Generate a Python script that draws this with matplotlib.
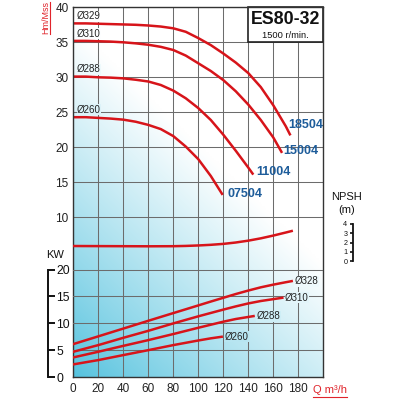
import numpy as np
import matplotlib
matplotlib.use('Agg')
import matplotlib.pyplot as plt
from matplotlib import font_manager
from matplotlib.patches import Rectangle
from matplotlib.lines import Line2D

_names = {f.name for f in font_manager.fontManager.ttflist}
NARROW = 'Liberation Sans Narrow' if 'Liberation Sans Narrow' in _names else 'Liberation Sans'
REG = 'Liberation Sans'
plt.rcParams['font.family'] = [NARROW, 'DejaVu Sans']

# ---------------- data ----------------
q_ticks = [0, 20, 40, 60, 80, 100, 120, 140, 160, 180]
h_ticks = [10, 15, 20, 25, 30, 35, 40]
kw_ticks = [0, 5, 10, 15, 20]
npsh_ticks = [0, 1, 2, 3, 4]

head_diams = ['Ø329', 'Ø310', 'Ø288', 'Ø260']
head_models = ['18504', '15004', '11004', '07504']
head_q = [
    [0, 10, 20, 30, 40, 50, 60, 70, 80, 90, 100, 110, 120, 130, 140, 150, 160, 170, 173.7],
    [0, 10, 20, 30, 40, 50, 60, 70, 80, 90, 100, 110, 120, 130, 140, 150, 160, 167],
    [0, 10, 20, 30, 40, 50, 60, 70, 80, 90, 100, 110, 120, 130, 140, 144],
    [0, 10, 20, 30, 40, 50, 60, 70, 80, 90, 100, 110, 119.5],
]
head_h = [
    [37.7, 37.7, 37.65, 37.6, 37.55, 37.5, 37.4, 37.25, 37.0, 36.5, 35.6, 34.6, 33.4, 32.1, 30.6, 28.6, 26.0, 23.0, 21.7],
    [35.2, 35.2, 35.15, 35.1, 35.0, 34.85, 34.65, 34.35, 33.9, 33.1, 32.0, 30.9, 29.6, 28.0, 26.1, 23.9, 21.4, 19.2],
    [30.1, 30.1, 30.0, 29.95, 29.85, 29.65, 29.4, 28.9, 28.1, 27.0, 25.6, 23.9, 21.8, 19.5, 17.1, 16.1],
    [24.3, 24.3, 24.2, 24.1, 23.95, 23.65, 23.2, 22.6, 21.6, 20.1, 18.3, 15.9, 13.2],
]

power_diams = ['Ø328', 'Ø310', 'Ø288', 'Ø260']
power_q = [
    [0, 20, 40, 60, 80, 100, 110, 120, 130, 140, 150, 160, 170, 174.7],
    [0, 20, 40, 60, 80, 100, 120, 130, 140, 150, 160, 167.2],
    [0, 20, 40, 60, 80, 100, 120, 130, 144.2],
    [0, 20, 40, 60, 80, 100, 110, 118.7],
]
power_kw = [
    [6.13, 7.57, 9.02, 10.47, 11.9, 13.33, 14.05, 14.75, 15.45, 16.1, 16.7, 17.2, 17.65, 17.85],
    [4.7, 5.94, 7.3, 8.6, 9.98, 11.3, 12.55, 13.15, 13.7, 14.15, 14.5, 14.75],
    [3.65, 4.7, 5.8, 6.87, 8.0, 9.17, 10.3, 10.8, 11.34],
    [2.35, 3.15, 4.08, 5.0, 5.94, 6.8, 7.2, 7.49],
]

npsh_q = [0, 20, 40, 60, 80, 90, 100, 110, 120, 130, 140, 150, 160, 170, 174.7]
npsh_m = [1.62, 1.61, 1.6, 1.59, 1.6, 1.63, 1.68, 1.75, 1.85, 2.0, 2.2, 2.45, 2.75, 3.08, 3.24]

# ---------------- style ----------------
RED = '#d7141a'
BLUE = '#1d5c9a'
LRED = '#e0242b'
GRID = '#6c6c6c'
W, HGT = 400, 400
L, R, T, B = 73.3, 323.3, 7.3, 377.0

BASE = np.array([84, 194, 222]) / 255.0


def shade(xf, yf):
    return np.clip(0.68 * xf + 1.05 * yf, 0, 1) ** 0.88


def bg_color(xf, yf):
    s = shade(xf, yf)
    return tuple(BASE + (1 - BASE) * s)


def fx(px):
    return px / W


def fy(py):
    return 1 - py / HGT


fig = plt.figure(figsize=(4, 4), dpi=100)
fig.patch.set_facecolor('white')
ax = fig.add_axes([fx(L), fy(B), (R - L) / W, (B - T) / HGT])

# background gradient
xf = np.linspace(0, 1, 200)
yf = np.linspace(0, 1, 200)
X, Y = np.meshgrid(xf, yf)
S = shade(X, Y)
img = BASE[None, None, :] + (1 - BASE)[None, None, :] * S[..., None]
ax.imshow(img, extent=[0, 1, 0, 1], transform=ax.transAxes, origin='lower',
          aspect='auto', zorder=0, interpolation='bilinear')

ax.set_xlim(0, 200)
ax.set_ylim(40 - (B - T) / 7.0, 40)
ax.set_xticks(q_ticks)
ax.set_yticks(h_ticks)
ax.grid(True, color=GRID, lw=0.75, zorder=1)
ax.set_axisbelow(True)
ax.tick_params(axis='both', length=0, labelsize=8.5, labelcolor='#222')
ax.tick_params(axis='x', pad=4.6)
ax.tick_params(axis='y', pad=3.4)
for s in ax.spines.values():
    s.set_color('#333')
    s.set_linewidth(1.0)
    s.set_zorder(6)


def ax_to_frac(axis, q, v):
    x0, x1 = axis.get_xlim()
    y0, y1 = axis.get_ylim()
    return (q - x0) / (x1 - x0), (v - y0) / (y1 - y0)


# head curves
for d, m, qs, hs in zip(head_diams, head_models, head_q, head_h):
    ax.plot(qs, hs, color=RED, lw=1.8, zorder=4, solid_capstyle='butt',
            solid_joinstyle='round')
    xfr, yfr = ax_to_frac(ax, 3.0, hs[0] + 1.05)
    ax.text(3.0, hs[0] + 1.05, d, fontsize=7, family=REG, color='#222',
            ha='left', va='center', zorder=5,
            bbox=dict(boxstyle='square,pad=0.05', fc=bg_color(xfr, yfr), ec='none'))

label_offsets = {'18504': (-1.3, 7.5), '15004': (1.2, 1.2),
                 '11004': (2.0, 1.7), '07504': (3.5, 0.7)}
for m, qs, hs in zip(head_models, head_q, head_h):
    dx, dy = label_offsets[m]
    ax.annotate(m, (qs[-1], hs[-1]), xytext=(dx, dy), textcoords='offset points',
                fontsize=9, fontweight='bold', color=BLUE, ha='left', va='center',
                zorder=5)

# title box
ax.add_patch(Rectangle((140, 35), 60, 5, fc='white', ec='#222', lw=1.2,
                       zorder=5, clip_on=False))
ax.text(170, 38.2, 'ES80-32', fontsize=12.8, fontweight='bold', color='#111',
        ha='center', va='center', zorder=6)
ax.text(169.4, 36.0, '1500 r/min.', fontsize=6.7, family=REG, color='#111',
        ha='center', va='center', zorder=6)

# KW axis
axk = ax.twinx()
axk.set_xlim(0, 200)
axk.set_ylim(0, (B - T) / 5.37)
axk.set_yticks(kw_ticks)
axk.grid(True, axis='y', color=GRID, lw=0.75, zorder=1)
for k in ['left', 'top', 'bottom']:
    axk.spines[k].set_visible(False)
axk.spines['right'].set_position(('axes', (48.3 - L) / (R - L)))
axk.spines['right'].set_bounds(0, 20)
axk.spines['right'].set_linewidth(1.4)
axk.spines['right'].set_color('#111')
axk.tick_params(axis='y', direction='out', length=4.8, width=1.4, pad=1.0,
                labelsize=8.8, colors='#111')
for d, qs, ks in zip(power_diams, power_q, power_kw):
    axk.plot(qs, ks, color=RED, lw=1.8, zorder=4, solid_joinstyle='round')
    xfr, yfr = ax_to_frac(axk, qs[-1] + 6, ks[-1])
    axk.annotate(d, (qs[-1], ks[-1]), xytext=(2.0, 0), textcoords='offset points',
                 fontsize=7, family=REG, color='#222', ha='left', va='center',
                 zorder=5,
                 bbox=dict(boxstyle='square,pad=0.05', fc=bg_color(xfr, yfr), ec='none'))

# NPSH axis
axn = ax.twinx()
axn.set_xlim(0, 200)
axn.set_ylim(-(B - 261) / 9.25, (261 - T) / 9.25)
for k in ['right', 'top', 'bottom']:
    axn.spines[k].set_visible(False)
axn.spines['left'].set_visible(True)
axn.spines['left'].set_position(('axes', (352.7 - L) / (R - L)))
axn.spines['left'].set_bounds(0, 4)
axn.spines['left'].set_linewidth(1.3)
axn.spines['left'].set_color('#111')
axn.yaxis.set_ticks_position('left')
axn.yaxis.set_label_position('left')
axn.set_yticks(npsh_ticks)
axn.tick_params(axis='y', direction='out', length=2.4, width=1.2, pad=1.5,
                labelsize=5.2, colors='#111')
axn.plot(npsh_q, npsh_m, color=RED, lw=1.8, zorder=4, solid_joinstyle='round')

# text labels outside axes
fig.text(fx(347), fy(197), 'NPSH', fontsize=8, family=REG, color='#111',
         ha='center', va='center')
fig.text(fx(347), fy(209.5), '(m)', fontsize=8, family=REG, color='#111',
         ha='center', va='center')
fig.text(fx(55.5), fy(255), 'KW', fontsize=8, family=REG, color='#111',
         ha='center', va='center')
fig.text(fx(46), fy(17.8), 'Hm/Mss', fontsize=6.5, color=LRED, rotation=90,
         ha='center', va='center')
fig.add_artist(Line2D([fx(50.3), fx(50.3)], [fy(2), fy(33.5)], color=LRED, lw=0.8))
fig.text(fx(313.3), fy(390), 'Q m³/h', fontsize=8, color=LRED,
         ha='left', va='center')
fig.add_artist(Line2D([fx(313.3), fx(346.7)], [fy(396.7), fy(396.7)], color=LRED, lw=0.8))

fig.savefig('out.png', dpi=100)
